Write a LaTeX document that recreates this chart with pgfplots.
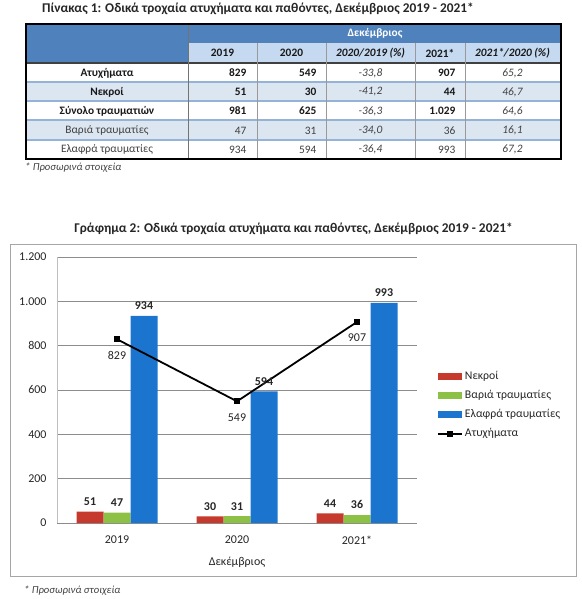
\documentclass[border=0pt]{standalone}
\usepackage{pgfplots}
\pgfplotsset{compat=1.18}
\usepackage{fontspec}
\setmainfont{Carlito}
\definecolor{hdark}{HTML}{4F81BD}
\definecolor{hlight}{HTML}{C5D9F1}
\definecolor{rowlight}{HTML}{DCE6F1}
\definecolor{sepc}{HTML}{95B3D7}
\definecolor{cred}{HTML}{C63A2E}
\definecolor{cgreen}{HTML}{8DC145}
\definecolor{cblue}{HTML}{1B75CF}
\newcommand\fs[1]{\fontsize{#1}{#1}\selectfont}
\begin{document}
\begin{tikzpicture}
\path[use as bounding box] (0,0) rectangle (582bp,-599bp);
\begin{scope}[x=1bp,y=-1bp]
% ---------- table ----------
\node[anchor=west, font=\fs{13.4}\bfseries, text=black!85, inner sep=0pt] at (42,9) {Πίνακας 1: Οδικά τροχαία ατυχήματα και παθόντες, Δεκέμβριος 2019 - 2021*};
\fill[hdark] (26,24) rectangle (561,43);
\fill[hdark] (26,43) rectangle (188.5,63);
\fill[hlight] (188.5,43) rectangle (561,63);
\fill[rowlight] (26,82) rectangle (561,101);
\fill[rowlight] (26,120) rectangle (561,140);
\draw[white!70!hdark, line width=0.8bp] (188.5,43)--(561,43);
\draw[sepc, line width=1.6bp] (26,82)--(561,82) (26,101)--(561,101) (26,120)--(561,120) (26,140)--(561,140);
\draw[black!75, line width=1.2bp] (26,63)--(561,63);
\draw[black!55, line width=0.6bp] (188.5,24)--(188.5,159);
\foreach \cx in {257,326.5,415,465} \draw[black!40, line width=0.6bp] (\cx,43)--(\cx,159);
\draw[black, line width=1.8bp] (26,24) rectangle (561,159);
\node[font=\fs{11.4}\bfseries, text=white] at (375,33.5) {Δεκέμβριος};
\begin{scope}[every node/.style={font=\fs{11.4}\bfseries, text=black!90}]
\node at (222.5,53) {2019};
\node at (291.5,53) {2020};
\node[font=\fs{11.4}\bfseries\itshape] at (370.5,53) {2020/2019 (\%)};
\node at (440,53) {2021*};
\node[font=\fs{11.4}\bfseries\itshape] at (512.5,53) {2021*/2020 (\%)};
\end{scope}
% rows
\begin{scope}[every node/.style={font=\fs{11.4}\bfseries, text=black!90}]
\node at (107,73) {Ατυχήματα};
\node at (107,92) {Νεκροί};
\node at (107,111) {Σύνολο τραυματιών};
\node[anchor=east] at (250,73) {829};
\node[anchor=east] at (320,73) {549};
\node[anchor=east] at (459,73) {907};
\node[anchor=east] at (250,92) {51};
\node[anchor=east] at (320,92) {30};
\node[anchor=east] at (459,92) {44};
\node[anchor=east] at (250,111) {981};
\node[anchor=east] at (320,111) {625};
\node[anchor=east] at (459,111) {1.029};
\end{scope}
\begin{scope}[every node/.style={font=\fs{11.4}, text=black!75}]
\node at (107,130.5) {Βαριά τραυματίες};
\node at (107,149.5) {Ελαφρά τραυματίες};
\node[anchor=east] at (250,130.5) {47};
\node[anchor=east] at (320,130.5) {31};
\node[anchor=east] at (459,130.5) {36};
\node[anchor=east] at (250,149.5) {934};
\node[anchor=east] at (320,149.5) {594};
\node[anchor=east] at (459,149.5) {993};
\end{scope}
\begin{scope}[every node/.style={font=\fs{11.4}\itshape, text=black!75}]
\node at (370.5,73) {-33,8};
\node at (512.5,73) {65,2};
\node at (370.5,92) {-41,2};
\node at (512.5,92) {46,7};
\node at (370.5,111) {-36,3};
\node at (512.5,111) {64,6};
\node at (370.5,130.5) {-34,0};
\node at (512.5,130.5) {16,1};
\node at (370.5,149.5) {-36,4};
\node at (512.5,149.5) {67,2};
\end{scope}
\node[anchor=west, font=\fs{10.7}\itshape, text=black!75, inner sep=0pt] at (25,168) {* Προσωρινά στοιχεία};
% ---------- chart ----------
\node[font=\fs{13.4}\bfseries, text=black!85, inner sep=0pt] at (293.5,229) {Γράφημα 2: Οδικά τροχαία ατυχήματα και παθόντες, Δεκέμβριος 2019 - 2021*};
\draw[black!35, line width=0.8bp] (10.5,244.5) rectangle (576.5,576);
\node[anchor=west, font=\fs{10.7}\itshape, text=black!75, inner sep=0pt] at (24,591) {* Προσωρινά στοιχεία};
\end{scope}
\begin{axis}[at={(57bp,-523bp)}, anchor=south west, scale only axis,
  width=360bp, height=266bp,
  xmin=-0.5, xmax=2.5, ymin=0, ymax=1200,
  xtick={0,1,2}, xticklabels={2019,2020,2021*},
  ytick={0,200,400,600,800,1000,1200},
  ymajorgrids, grid style={draw=black!45, line width=0.6bp},
  axis x line*=bottom, axis y line*=left,
  x axis line style={draw=black!45,-}, y axis line style={draw=black!25,-},
  major tick length=0pt,
  tick label style={font=\fs{12}, text=black!85},
  /pgf/number format/1000 sep={.},
  /pgf/number format/assume math mode=true,
  xticklabel style={yshift=-9bp},
  yticklabel style={xshift=-7bp},
  xlabel={Δεκέμβριος},
  xlabel style={at={(axis description cs:0.5,-0.148)}, anchor=center, font=\fs{12}, text=black!85},
  legend style={at={(axis description cs:1.0555,0.579)}, anchor=north west, draw=none, fill=none,
    font=\fs{11.8}, row sep=4bp, inner sep=0pt, text=black!85,
    nodes={text height=8.5bp, text depth=2.5bp}},
  legend cell align=left,
  clip=false,
  bar width=0.225,
]
\addplot[ybar, bar shift=-0.225, fill=cred, draw=none,
  nodes near coords, nodes near coords style={font=\fs{12}\bfseries, text=black!85, yshift=2.5bp, xshift=-27bp},
  legend image code/.code={\fill[cred] (0bp,-3.5bp) rectangle (24bp,3.5bp);}]
  coordinates {(0,51) (1,30) (2,44)};
\addlegendentry{Νεκροί}
\addplot[ybar, bar shift=0, fill=cgreen, draw=none,
  nodes near coords, nodes near coords style={font=\fs{12}\bfseries, text=black!85, yshift=2.5bp},
  legend image code/.code={\fill[cgreen] (0bp,-3.5bp) rectangle (24bp,3.5bp);}]
  coordinates {(0,47) (1,31) (2,36)};
\addlegendentry{Βαριά τραυματίες}
\addplot[ybar, bar shift=0.225, fill=cblue, draw=none,
  nodes near coords, nodes near coords style={font=\fs{12}\bfseries, text=black!85, yshift=2.5bp, xshift=27bp},
  legend image code/.code={\fill[cblue] (0bp,-3.5bp) rectangle (24bp,3.5bp);}]
  coordinates {(0,934) (1,594) (2,993)};
\addlegendentry{Ελαφρά τραυματίες}
\addplot[black, line width=1.8bp, mark=square*, mark size=2bp,
  nodes near coords, nodes near coords style={anchor=north, yshift=-8bp, font=\fs{12}, text=black!85},
  legend image code/.code={\draw[black, line width=1.8bp] (0bp,0bp)--(24bp,0bp); \fill[black] (10bp,-2bp) rectangle (14bp,2bp);}]
  coordinates {(0,829) (1,549) (2,907)};
\addlegendentry{Ατυχήματα}
\end{axis}
\end{tikzpicture}
\end{document}
